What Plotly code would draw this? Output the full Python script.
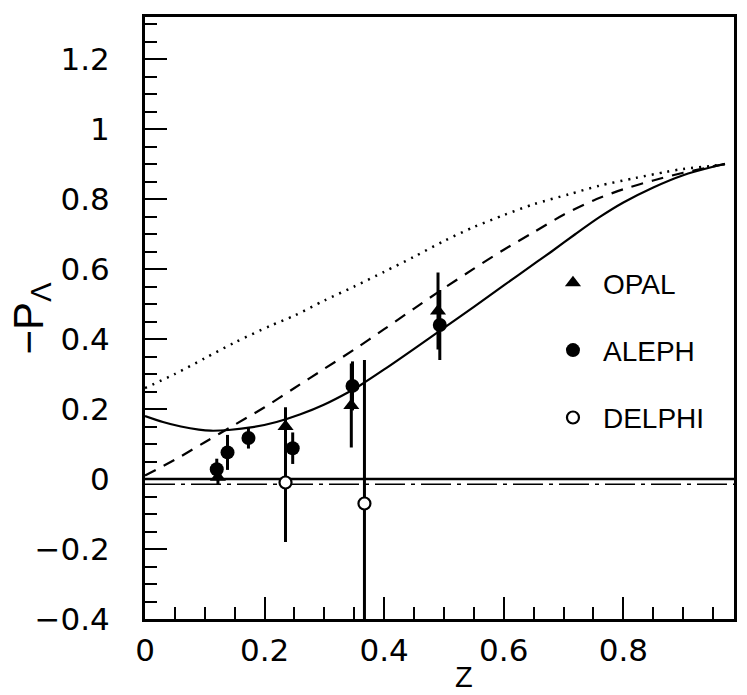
import plotly.graph_objects as go

# Model curves for -P_Lambda as a function of z
solid_z = [0.0, 0.03, 0.06, 0.09, 0.11, 0.14, 0.18, 0.22, 0.26, 0.30, 0.34, 0.36,
           0.40, 0.45, 0.50, 0.55, 0.60, 0.65, 0.68, 0.72, 0.76, 0.80, 0.85, 0.90,
           0.95, 0.97]
solid_p = [0.180, 0.163, 0.150, 0.141, 0.138, 0.140, 0.148, 0.163, 0.185, 0.213,
           0.248, 0.268, 0.313, 0.372, 0.432, 0.492, 0.553, 0.614, 0.650, 0.700,
           0.748, 0.790, 0.833, 0.868, 0.892, 0.900]

dashed_z = [0.0, 0.05, 0.10, 0.15, 0.20, 0.25, 0.30, 0.35, 0.40, 0.45, 0.50, 0.55,
            0.60, 0.65, 0.70, 0.75, 0.80, 0.85, 0.90, 0.95, 0.97]
dashed_p = [0.010, 0.055, 0.105, 0.155, 0.205, 0.260, 0.315, 0.370, 0.428, 0.487,
            0.545, 0.601, 0.655, 0.705, 0.755, 0.796, 0.828, 0.853, 0.875, 0.893,
            0.900]

dotted_z = [0.0, 0.05, 0.10, 0.15, 0.21, 0.25, 0.30, 0.35, 0.40, 0.45, 0.50, 0.55,
            0.60, 0.65, 0.71, 0.76, 0.82, 0.87, 0.90, 0.95, 0.97]
dotted_p = [0.260, 0.300, 0.345, 0.390, 0.438, 0.467, 0.510, 0.550, 0.592, 0.635,
            0.680, 0.720, 0.754, 0.785, 0.814, 0.838, 0.860, 0.877, 0.886, 0.895,
            0.900]

# Reference lines near zero
zero_z = [0.0, 0.985]
zero_p = [0.0, 0.0]
offset_p = [-0.015, -0.015]

# Measurements
opal_z = [0.122, 0.235, 0.345, 0.490]
opal_p = [0.005, 0.150, 0.210, 0.480]
opal_err = [0.020, 0.055, 0.120, 0.110]

aleph_z = [0.120, 0.138, 0.173, 0.247, 0.347, 0.493]
aleph_p = [0.028, 0.076, 0.117, 0.088, 0.266, 0.440]
aleph_err = [0.030, 0.050, 0.030, 0.045, 0.070, 0.100]

delphi_z = [0.235, 0.367]
delphi_p = [-0.010, -0.070]
delphi_err = [0.170, 0.410]

x_ticks = [0, 0.2, 0.4, 0.6, 0.8]

FONT = "Liberation Sans, Arial, Helvetica, sans-serif"
TICK_FONT = "DejaVu Sans, Liberation Sans, sans-serif"

fig = go.Figure()

fig.add_trace(go.Scatter(x=dotted_z, y=dotted_p, mode="lines", showlegend=False,
                         line=dict(color="black", width=2.5, dash="2px,6px",
                                   shape="spline", smoothing=0.8)))
fig.add_trace(go.Scatter(x=dashed_z, y=dashed_p, mode="lines", showlegend=False,
                         line=dict(color="black", width=2.2, dash="12px,9px",
                                   shape="spline", smoothing=0.8)))
fig.add_trace(go.Scatter(x=solid_z, y=solid_p, mode="lines", showlegend=False,
                         line=dict(color="black", width=2.2,
                                   shape="spline", smoothing=0.8)))
fig.add_trace(go.Scatter(x=zero_z, y=zero_p, mode="lines", showlegend=False,
                         line=dict(color="black", width=2.5)))
fig.add_trace(go.Scatter(x=zero_z, y=offset_p, mode="lines", showlegend=False,
                         line=dict(color="black", width=1.5, dash="30px,6px,4px,6px")))

err_style = dict(type="data", visible=True, thickness=3, width=0, color="black")

fig.add_trace(go.Scatter(
    x=opal_z, y=opal_p, mode="markers", name="OPAL", legendgroup="opal",
    error_y=dict(array=opal_err, **err_style),
    marker=dict(symbol="triangle-up", size=14, color="black")))
fig.add_trace(go.Scatter(
    x=aleph_z, y=aleph_p, mode="markers", name="ALEPH", legendgroup="aleph",
    error_y=dict(array=aleph_err, **err_style),
    marker=dict(symbol="circle", size=14, color="black")))
fig.add_trace(go.Scatter(
    x=delphi_z, y=delphi_p, mode="markers", name="DELPHI", legendgroup="delphi",
    error_y=dict(array=delphi_err, **err_style),
    marker=dict(symbol="circle", size=12, color="white",
                line=dict(color="black", width=2.2))))

L, R, T, B = 145, 10, 17, 76
W, H = 747, 695
pw, ph = W - L - R, H - T - B

def px_x(px):
    return (px - L) / pw

def px_y(py):
    return (H - B - py) / ph

fig.update_layout(
    width=W, height=H,
    margin=dict(l=L, r=R, t=T, b=B),
    paper_bgcolor="white", plot_bgcolor="white",
    font=dict(family=FONT, color="black"),
    showlegend=True,
    legend=dict(x=px_x(545), y=px_y(258), xanchor="left", yanchor="top",
                font=dict(size=28, family=FONT), bgcolor="rgba(0,0,0,0)",
                tracegroupgap=28, itemwidth=50),
    xaxis=dict(range=[0, 0.985], tickvals=x_ticks, ticks="inside", ticklen=22,
               tickwidth=2, tickcolor="black", showline=True, linewidth=3,
               linecolor="black", mirror=True, showgrid=False, zeroline=False,
               tickfont=dict(size=31, family=TICK_FONT), ticklabelstandoff=2,
               minor=dict(dtick=0.05, ticks="inside", ticklen=12, tickwidth=2,
                          tickcolor="black", showgrid=False)),
    yaxis=dict(range=[-0.4, 1.32], dtick=0.2, tick0=0, ticks="inside", ticklen=22,
               tickwidth=2, tickcolor="black", showline=True, linewidth=3,
               linecolor="black", mirror=True, showgrid=False, zeroline=False,
               tickfont=dict(size=31, family=TICK_FONT), ticklabelstandoff=26,
               minor=dict(dtick=0.05, ticks="inside", ticklen=12, tickwidth=2,
                          tickcolor="black", showgrid=False)),
    annotations=[
        dict(text="\u2212P<sub>\u039b</sub>", xref="paper", yref="paper",
             x=px_x(30), y=px_y(318), xanchor="center", yanchor="middle",
             textangle=-90, showarrow=False, font=dict(size=42, family=FONT)),
        dict(text="Z", xref="paper", yref="paper", x=px_x(466), y=px_y(677),
             xanchor="center", yanchor="middle", showarrow=False,
             font=dict(size=29, family=FONT)),
    ],
)

fig.write_html("out.html")
